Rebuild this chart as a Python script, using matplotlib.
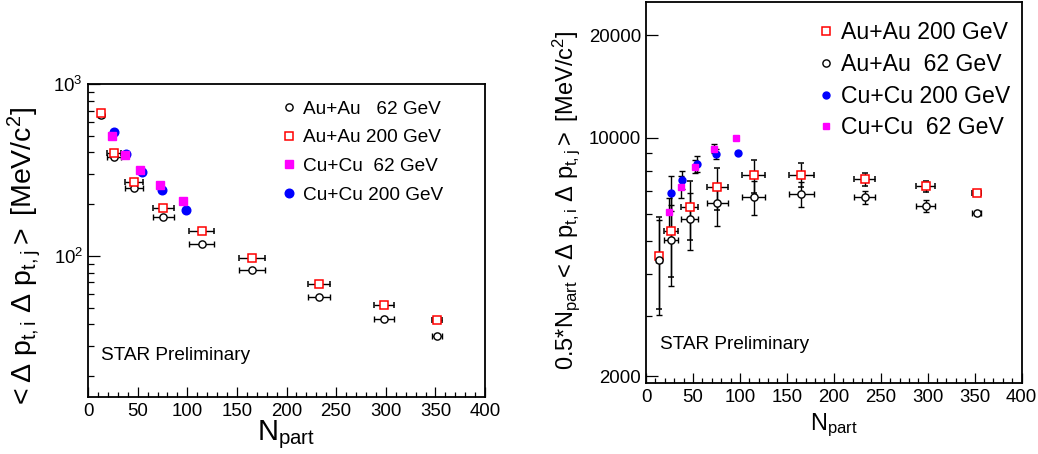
import numpy as np
import matplotlib
matplotlib.use("Agg")
import matplotlib.pyplot as plt
from matplotlib.ticker import NullFormatter, FixedLocator, FixedFormatter

plt.rcParams["font.family"] = ["Liberation Sans", "DejaVu Sans"]
plt.rcParams["mathtext.fontset"] = "custom"
plt.rcParams["mathtext.rm"] = "Liberation Sans"
plt.rcParams["mathtext.it"] = "Liberation Sans"
plt.rcParams["mathtext.bf"] = "Liberation Sans"

# ---- data ----
# Au+Au centrality bins
npart_au = [13.5, 26.5, 46.5, 76, 114.5, 165.5, 233, 298, 352]
npart_au_err = [3, 7, 9, 11, 12.5, 13, 11, 10, 5]

# left panel: <dpt dpt> [MeV/c^2]
au62_left = [660, 375, 249, 169, 118, 83, 57.8, 42.8, 34.3]
au200_left = [675, 399, 268, 191, 139, 97, 68.4, 51.7, 42.1]

npart_cu62 = [24.2, 37, 52.2, 72.4, 95.6]
npart_cu200 = [26.3, 38.4, 54.2, 74.5, 98.3]
cu62_left = [499, 388, 316, 258, 209]
cu200_left = [528, 392, 309, 241, 184]

# right panel: 0.5*Npart <dpt dpt> [MeV/c^2]
au200_right = [4508, 5349, 6258, 7165, 7773, 7805, 7561, 7210, 6879]
au200_right_err = [1350, 1430, 1240, 1000, 860, 620, 355, 270, 80]
au62_right = [4387, 5022, 5785, 6430, 6714, 6850, 6691, 6318, 6010]
au62_right_err = [1350, 1350, 1100, 900, 760, 560, 300, 250, 80]
cu200_right = [6915, 7533, 8408, 8977, 9055]
cu200_right_err = [800, 450, 450, 300, 100]
cu62_right = [6049, 7197, 8238, 9303, 10000]
cu62_right_err = [600, 550, 350, 300, 100]

right_yticks = [2000, 10000, 20000]
right_yticks_minor = [3000, 4000, 5000, 6000, 7000, 8000, 9000]

fig = plt.figure(figsize=(10.38, 4.54), dpi=100)
ax1 = fig.add_axes([0.0848, 0.1256, 0.3825, 0.6894])
ax2 = fig.add_axes([0.6224, 0.1557, 0.3618, 0.8399])

ebar = dict(ecolor="black", elinewidth=1.0, capsize=2.5, capthick=1.0, ls="none")

# ---- left panel ----
l_au62 = ax1.errorbar(npart_au, au62_left, xerr=npart_au_err, marker="o",
                      ms=5.2, mfc="white", mec="black", mew=1.0, **ebar)
l_au200 = ax1.errorbar(npart_au, au200_left, xerr=npart_au_err, marker="s",
                       ms=6.0, mfc="white", mec="red", mew=1.1, **ebar)
l_cu200, = ax1.plot(npart_cu200, cu200_left, "o", ms=6.2, color="blue")
l_cu62, = ax1.plot(npart_cu62, cu62_left, "s", ms=5.6, color="magenta")

ax1.set_yscale("log")
ax1.set_xlim(0, 400)
ax1.set_ylim(15.1, 1000)
ax1.yaxis.set_minor_formatter(NullFormatter())
ax1.set_xticks(np.arange(0, 401, 50))
ax1.set_xticks(np.arange(0, 401, 10), minor=True)

ax1.legend([l_au62[0], l_au200[0], l_cu62, l_cu200],
           ["Au+Au   62 GeV", "Au+Au 200 GeV", "Cu+Cu  62 GeV", "Cu+Cu 200 GeV"],
           loc="upper left", bbox_to_anchor=(0.481, 0.948), frameon=False,
           fontsize=13.7, handlelength=1.0, handletextpad=0.25,
           labelspacing=0.6, borderpad=0, borderaxespad=0)

ax1.text(0.033, 0.131, "STAR Preliminary", transform=ax1.transAxes,
         fontsize=13.7, va="center", ha="left")
ax1.set_xlabel(r"N$_{\mathrm{part}}$", fontsize=21)
ax1.xaxis.set_label_coords(0.5, -0.07)
ax1.set_ylabel(r"$<\Delta\ \mathrm{p}_{\mathrm{t,i}}\ \Delta\ \mathrm{p}_{\mathrm{t,j}}>$ [MeV/c$^{2}$]",
               fontsize=20.5)
ax1.yaxis.set_label_coords(-0.114, 0.445)

# ---- right panel ----
r_au200 = ax2.errorbar(npart_au, au200_right, xerr=npart_au_err,
                       yerr=au200_right_err, marker="s", ms=6.0, mfc="white",
                       mec="red", mew=1.1, **ebar)
r_au62 = ax2.errorbar(npart_au, au62_right, xerr=npart_au_err,
                      yerr=au62_right_err, marker="o", ms=5.2, mfc="white",
                      mec="black", mew=1.0, **ebar)
r_cu200 = ax2.errorbar(npart_cu200, cu200_right, yerr=cu200_right_err,
                       marker="o", ms=5.0, mfc="blue", mec="blue", **ebar)
r_cu62 = ax2.errorbar(npart_cu62, cu62_right, yerr=cu62_right_err,
                      marker="s", ms=5.0, mfc="magenta", mec="magenta", **ebar)

ax2.set_yscale("log")
ax2.set_xlim(0, 400)
ax2.set_ylim(1910, 25000)
ax2.yaxis.set_major_locator(FixedLocator(right_yticks))
ax2.yaxis.set_major_formatter(FixedFormatter([str(v) for v in right_yticks]))
ax2.yaxis.set_minor_locator(FixedLocator(right_yticks_minor))
ax2.yaxis.set_minor_formatter(NullFormatter())
ax2.set_xticks(np.arange(0, 401, 50))
ax2.set_xticks(np.arange(0, 401, 10), minor=True)

ax2.legend([r_au200[0], r_au62[0], r_cu200[0], r_cu62[0]],
           ["Au+Au 200 GeV", "Au+Au  62 GeV", "Cu+Cu 200 GeV", "Cu+Cu  62 GeV"],
           loc="upper left", bbox_to_anchor=(0.454, 0.95), frameon=False,
           fontsize=16.6, handlelength=0.8, handletextpad=0.27,
           labelspacing=0.38, borderpad=0, borderaxespad=0)

ax2.text(0.037, 0.103, "STAR Preliminary", transform=ax2.transAxes,
         fontsize=13.7, va="center", ha="left")
ax2.set_xlabel(r"N$_{\mathrm{part}}$", fontsize=17)
ax2.xaxis.set_label_coords(0.5, -0.075)
ax2.set_ylabel(r"0.5*N$_{\mathrm{part}}$$<\Delta\ \mathrm{p}_{\mathrm{t,i}}\ \Delta\ \mathrm{p}_{\mathrm{t,j}}>$ [MeV/c$^{2}$]",
               fontsize=17)
ax2.yaxis.set_label_coords(-0.17, 0.48)

for ax in (ax1, ax2):
    for sp in ax.spines.values():
        sp.set_linewidth(1.3)
    ax.tick_params(which="both", direction="in", top=False, right=False,
                   labelsize=13.4, width=0.9)
    ax.tick_params(axis="x", which="major", length=7.2, pad=4)
    ax.tick_params(axis="x", which="minor", length=3.6)
    ax.tick_params(axis="y", which="major", length=8.6, pad=3.6)
    ax.tick_params(axis="y", which="minor", length=4.3)

fig.savefig("out.png", dpi=100)
